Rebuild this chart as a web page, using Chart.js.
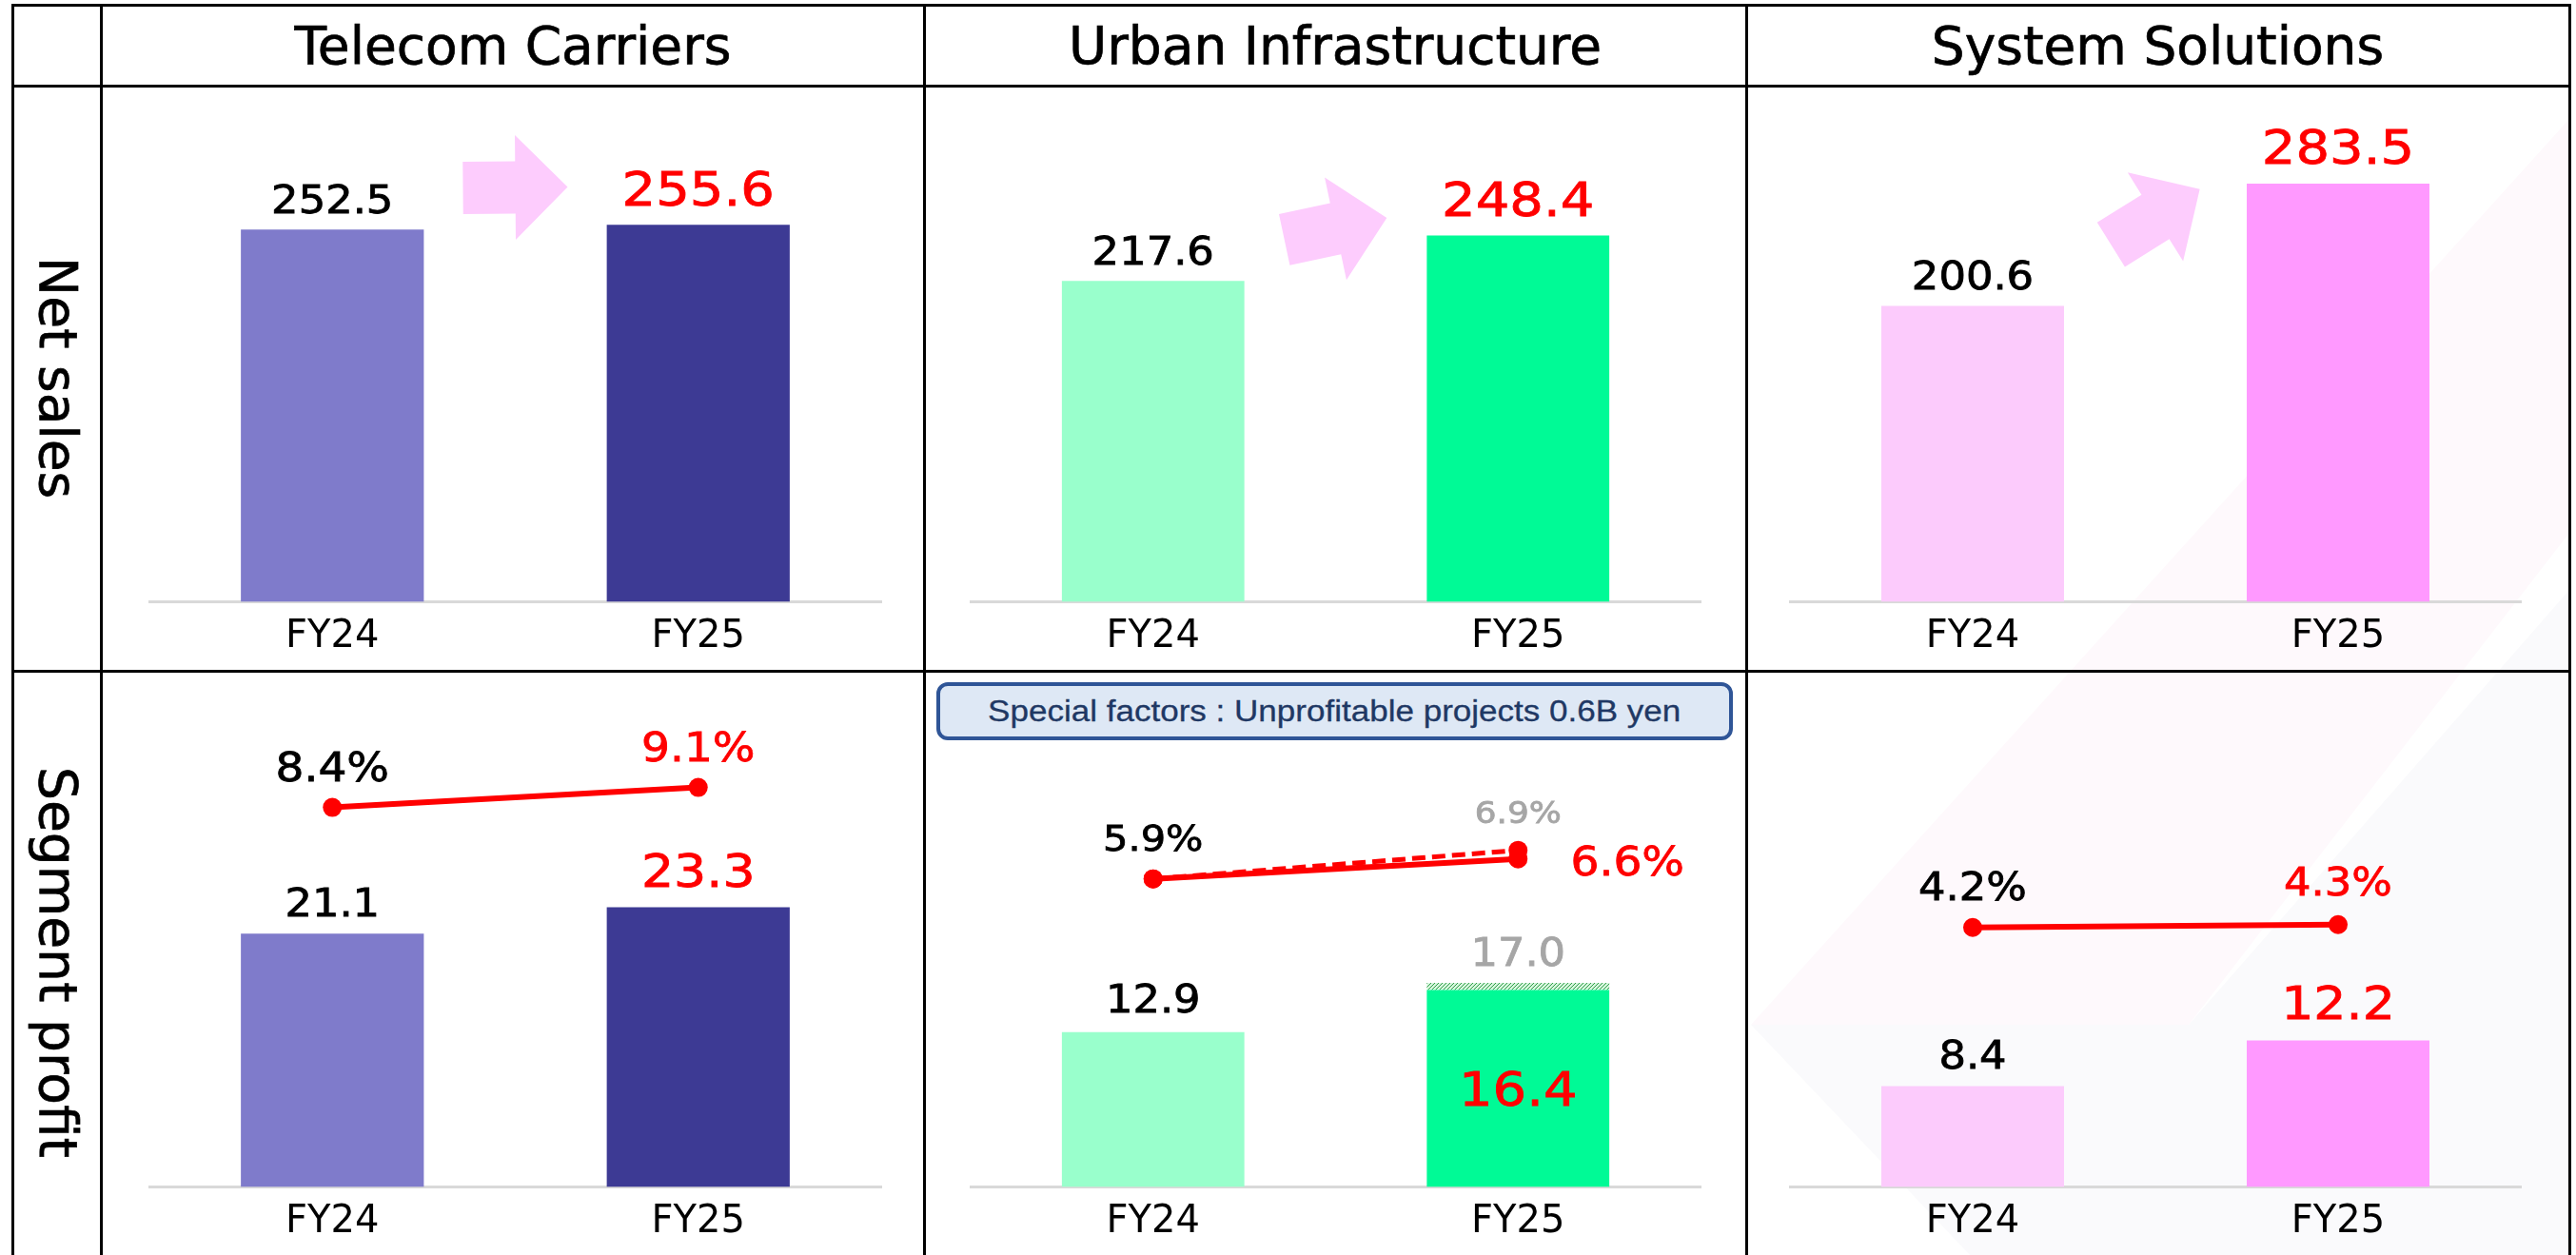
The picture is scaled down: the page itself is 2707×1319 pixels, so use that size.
<!DOCTYPE html>
<html>
<head>
<meta charset="utf-8">
<script src="https://cdn.jsdelivr.net/npm/chart.js@4.4.1/dist/chart.umd.min.js"></script>
<style>
html, body { margin: 0; padding: 0; background: #fff; }
#page { position: relative; width: 2707px; height: 1319px; overflow: hidden; font-family: "DejaVu Sans", sans-serif; }
#bg { position: absolute; left: 0; top: 0; z-index: 0; }
canvas { position: absolute; z-index: 1; }
.title { position: absolute; top: 5px; height: 85px; display: flex; align-items: center; justify-content: center; font-size: 55px; color: #000; -webkit-text-stroke: 0.7px #000; z-index: 2; }
.rowlabel { position: absolute; left: 13px; width: 94px; display: flex; align-items: center; justify-content: center; z-index: 2; }
.rowlabel span { writing-mode: vertical-rl; font-size: 55px; color: #000; line-height: 1; -webkit-text-stroke: 0.7px #000; }
#note { position: absolute; left: 984px; top: 717px; width: 837px; height: 61px; box-sizing: border-box;
        border: 4px solid #2F5597; border-radius: 12px; background: #DEE8F5; color: #1F3864;
        font-family: "Liberation Sans", sans-serif; font-size: 31px; display: flex; align-items: center; justify-content: center; z-index: 2; }
#note span { display: inline-block; transform: scaleX(1.13); white-space: nowrap; -webkit-text-stroke: 0.3px #1F3864; }
.line { position: absolute; background: #000; z-index: 3; }
</style>
</head>
<body>
<div id="page">
  <svg id="bg" width="2707" height="1319">
    <polygon points="1840,1077 2700,125 2700,560 2300,1077" fill="#FEF9FC"/>
    <polygon points="1840,1077 2300,1077 2700,620 2700,1319 2070,1319" fill="#FAFAFC"/>
  </svg>
  <div id="note"><span></span></div>
</div>
<script>
// --- data ---
const years = ['FY24', 'FY25'];
const segmentNames = ['Telecom Carriers', 'Urban Infrastructure', 'System Solutions'];
const rowNames = ['Net sales', 'Segment profit'];

const telecomSales = [252.5, 255.6];
const urbanSales = [217.6, 248.4];
const systemSales = [200.6, 283.5];

const telecomProfit = [21.1, 23.3];
const urbanProfit = [12.9, 16.4];
const urbanSpecial = [0, 0.6];   // unprofitable projects
const systemProfit = [8.4, 12.2];

const telecomMargin = [8.4, 9.1];
const urbanMargin = [5.9, 6.6];
const urbanMarginExSpecial = [5.9, 6.9];
const systemMargin = [4.2, 4.3];

const specialNote = 'Special factors : Unprofitable projects 0.6B yen';

// --- layout ---
const FONT = '"DejaVu Sans", sans-serif';
const colX = [107, 971, 1835, 2700];
const rowY = [90, 705, 1319];
const padX = [[50, 45], [49, 48], [46, 51]];
const PLOT_H = 542.5;
const RED = '#FF0000', GRAY = '#A6A6A6', BLACK = '#000000';
const barColors = [['#7F7BCB', '#3D3A94'], ['#99FFCC', '#00FA96'], ['#FCCBFC', '#FF99FF']];

const page = document.getElementById('page');
document.querySelector('#note span').textContent = specialNote;

segmentNames.forEach((name, c) => {
    const d = document.createElement('div');
    d.className = 'title';
    d.style.left = colX[c] + 'px';
    d.style.width = (colX[c + 1] - colX[c]) + 'px';
    d.textContent = name;
    page.appendChild(d);
});
rowNames.forEach((name, r) => {
    const d = document.createElement('div');
    d.className = 'rowlabel';
    d.style.top = rowY[r] + 'px';
    d.style.height = (rowY[r + 1] - rowY[r]) + 'px';
    d.innerHTML = '<span>' + name + '</span>';
    page.appendChild(d);
});

// table lines
function addLine(x, y, w, h) {
    const d = document.createElement('div');
    d.className = 'line';
    d.style.left = x + 'px'; d.style.top = y + 'px';
    d.style.width = w + 'px'; d.style.height = h + 'px';
    page.appendChild(d);
}
[13, 106.5, 971, 1835, 2700.5].forEach(x => addLine(x - 1.5, 4, 3, 1320));
[5, 90, 705].forEach(y => addLine(12, y - 1.5, 2690, 3));

function makeCanvas(col, row) {
    const c = document.createElement('canvas');
    const w = colX[col + 1] - colX[col], h = rowY[row + 1] - rowY[row];
    c.width = w; c.height = h;
    c.style.width = w + 'px'; c.style.height = h + 'px';
    c.style.left = colX[col] + 'px'; c.style.top = rowY[row] + 'px';
    page.appendChild(c);
    return c;
}

// value text, a little stretched and thickened like the slide font
function drawText(ctx, text, x, y, size, color) {
    ctx.save();
    ctx.translate(x, y + size * 0.365);
    ctx.scale(1.12, 1);
    ctx.font = size + 'px ' + FONT;
    ctx.fillStyle = color;
    ctx.strokeStyle = color;
    ctx.lineWidth = 0.8;
    ctx.textAlign = 'center';
    ctx.textBaseline = 'alphabetic';
    ctx.fillText(text, 0, 0);
    ctx.strokeText(text, 0, 0);
    ctx.restore();
}

function labelPlugin(specs) {
    return {
        id: 'valueLabels',
        afterDatasetsDraw(chart) {
            specs.forEach(s => {
                const el = chart.getDatasetMeta(s.ds).data[s.i];
                const y = s.mid ? (el.y + el.base) / 2 : el.y + s.dy;
                drawText(chart.ctx, s.text, el.x + (s.dx || 0), y, s.size, s.color);
            });
        }
    };
}

function arrowPlugin(a) {
    return {
        id: 'growthArrow',
        beforeDatasetsDraw(chart) {
            const bars = chart.getDatasetMeta(0).data;
            const cx = (bars[0].x + bars[1].x) / 2;
            const cy = chart.scales.y.getPixelForValue(a.at);
            const ctx = chart.ctx;
            ctx.save();
            ctx.translate(cx, cy);
            ctx.rotate(-a.angle * Math.PI / 180);
            ctx.beginPath();
            ctx.moveTo(-55, -27.5); ctx.lineTo(0, -27.5); ctx.lineTo(0, -55);
            ctx.lineTo(55, 0); ctx.lineTo(0, 55); ctx.lineTo(0, 27.5); ctx.lineTo(-55, 27.5);
            ctx.closePath();
            ctx.fillStyle = '#FDCCFD';
            ctx.fill();
            ctx.restore();
        }
    };
}

function baseOptions(col, h, yScales) {
    return {
        responsive: false,
        maintainAspectRatio: false,
        animation: false,
        devicePixelRatio: 1,
        layout: { autoPadding: false, padding: { left: padX[col][0], right: padX[col][1], top: 0, bottom: 0 } },
        plugins: { legend: { display: false }, tooltip: { enabled: false } },
        scales: Object.assign({
            x: {
                stacked: true,
                grid: { display: false, drawTicks: false },
                border: { display: true, color: '#D9D9D9', width: 3 },
                ticks: { color: BLACK, padding: 13, font: { family: FONT, size: 40 } },
                afterFit: s => { s.height = h - PLOT_H; }
            }
        }, yScales)
    };
}

const fmt = v => v.toFixed(1);
const pct = v => v.toFixed(1) + '%';

// --- net sales row ---
function salesChart(col, values, arrow) {
    const canvas = makeCanvas(col, 0);
    return new Chart(canvas, {
        type: 'bar',
        data: {
            labels: years,
            datasets: [{ data: values, backgroundColor: barColors[col], barPercentage: 0.5, categoryPercentage: 1 }]
        },
        options: baseOptions(col, canvas.height, { y: { display: false, min: 0, max: 350 } }),
        plugins: [arrowPlugin(arrow), labelPlugin([
            { ds: 0, i: 0, text: fmt(values[0]), color: BLACK, size: 40, dy: -32 },
            { ds: 0, i: 1, text: fmt(values[1]), color: RED, size: 50, dy: -39 }
        ])]
    });
}

salesChart(0, telecomSales, { at: 281, angle: 0.5 });
salesChart(1, urbanSales, { at: 253, angle: 12 });
salesChart(2, systemSales, { at: 261, angle: 32 });

// --- segment profit row ---
function hatchPattern() {
    const p = document.createElement('canvas');
    p.width = 4; p.height = 4;
    const c = p.getContext('2d');
    c.fillStyle = '#D6F5DD'; c.fillRect(0, 0, 4, 4);
    c.fillStyle = '#2E9E46';
    c.fillRect(0, 0, 1, 1); c.fillRect(2, 2, 1, 1); c.fillRect(1, 3, 1, 1); c.fillRect(3, 1, 1, 1);
    return c.createPattern(p, 'repeat');
}

function marginLine(values, dashed) {
    return {
        type: 'line', data: values, yAxisID: 'y1', order: 0,
        borderColor: RED, borderWidth: dashed ? 5 : 6, borderDash: dashed ? [14, 7] : [],
        pointRadius: 10, pointBackgroundColor: RED, pointBorderWidth: 0, tension: 0
    };
}

function profitChart(col, datasets, labels) {
    const canvas = makeCanvas(col, 1);
    return new Chart(canvas, {
        type: 'bar',
        data: { labels: years, datasets: datasets },
        options: baseOptions(col, canvas.height, {
            y: { display: false, stacked: true, min: 0, max: 43 },
            y1: { display: false, min: -4.88, max: 13.18 }
        }),
        plugins: [labelPlugin(labels)]
    });
}

function profitBars(col, values) {
    return { data: values, yAxisID: 'y', order: 2, stack: 'p', backgroundColor: barColors[col], barPercentage: 0.5, categoryPercentage: 1 };
}

profitChart(0, [profitBars(0, telecomProfit), marginLine(telecomMargin)], [
    { ds: 0, i: 0, text: fmt(telecomProfit[0]), color: BLACK, size: 40, dy: -33 },
    { ds: 0, i: 1, text: fmt(telecomProfit[1]), color: RED, size: 48, dy: -39 },
    { ds: 1, i: 0, text: pct(telecomMargin[0]), color: BLACK, size: 42, dy: -43 },
    { ds: 1, i: 1, text: pct(telecomMargin[1]), color: RED, size: 42, dy: -43 }
]);

const specialBars = { data: urbanSpecial, yAxisID: 'y', order: 2, stack: 'p', backgroundColor: hatchPattern(), barPercentage: 0.5, categoryPercentage: 1 };
profitChart(1, [profitBars(1, urbanProfit), specialBars, marginLine(urbanMargin), marginLine(urbanMarginExSpecial, true)], [
    { ds: 0, i: 0, text: fmt(urbanProfit[0]), color: BLACK, size: 40, dy: -35 },
    { ds: 0, i: 1, text: fmt(urbanProfit[1]), color: RED, size: 50, mid: true },
    { ds: 1, i: 1, text: fmt(urbanProfit[1] + urbanSpecial[1]), color: GRAY, size: 40, dy: -33 },
    { ds: 2, i: 0, text: pct(urbanMargin[0]), color: BLACK, size: 37, dy: -43 },
    { ds: 3, i: 1, text: pct(urbanMarginExSpecial[1]), color: GRAY, size: 32, dy: -40 },
    { ds: 2, i: 1, text: pct(urbanMargin[1]), color: RED, size: 42, dx: 115, dy: 2 }
]);

profitChart(2, [profitBars(2, systemProfit), marginLine(systemMargin)], [
    { ds: 0, i: 0, text: fmt(systemProfit[0]), color: BLACK, size: 40, dy: -33 },
    { ds: 0, i: 1, text: fmt(systemProfit[1]), color: RED, size: 48, dy: -40 },
    { ds: 1, i: 0, text: pct(systemMargin[0]), color: BLACK, size: 40, dy: -43.5 },
    { ds: 1, i: 1, text: pct(systemMargin[1]), color: RED, size: 40, dy: -45 }
]);
</script>
</body>
</html>
